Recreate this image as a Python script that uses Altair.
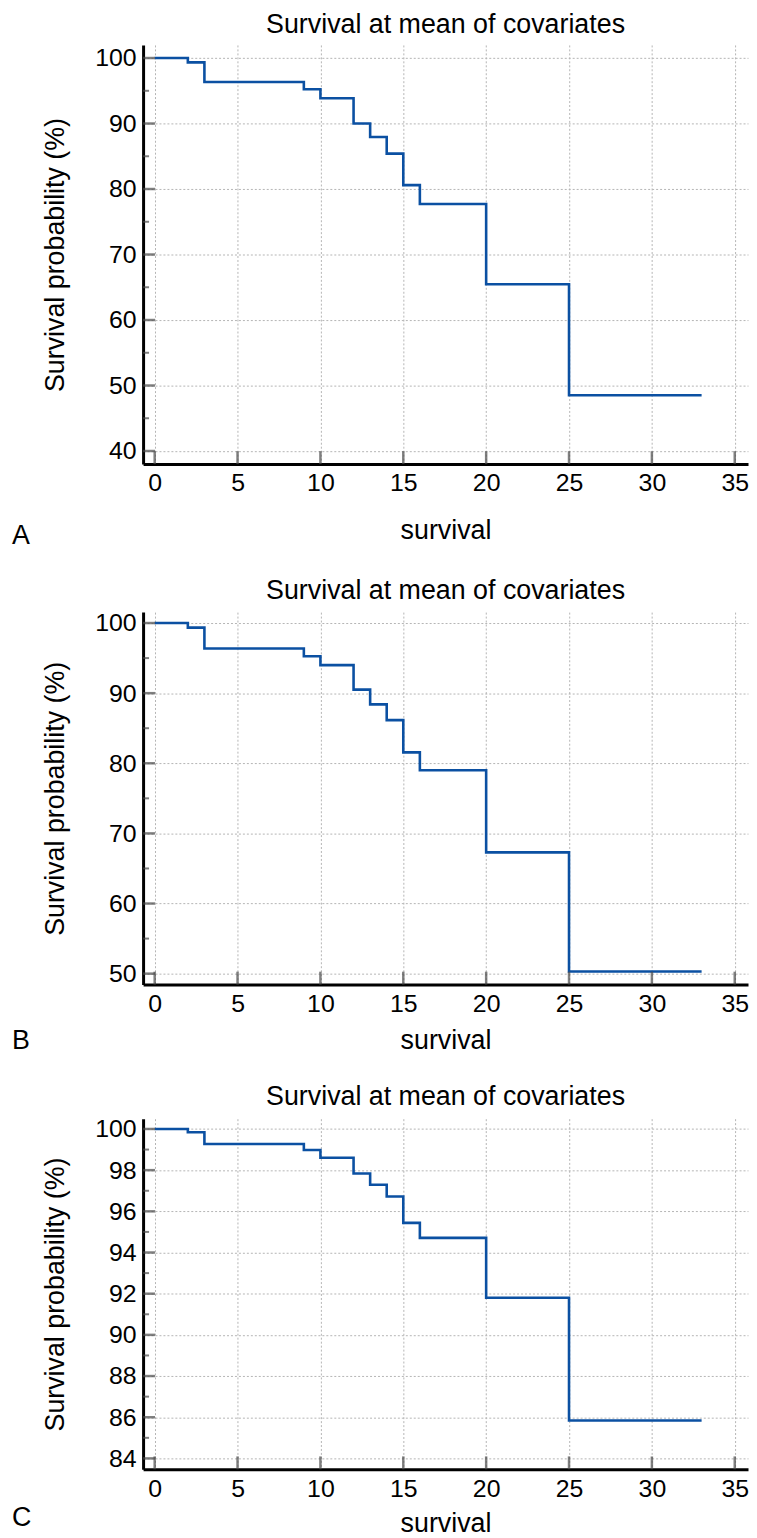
import altair as alt
import pandas as pd

# ---- data ----
TIMES = [0, 2, 3, 9, 10, 12, 13, 14, 15, 16, 20, 25, 33]
SURV_A = [100, 99.33, 96.35, 95.24, 93.87, 90.0, 87.94, 85.4, 80.6, 77.7, 65.45, 48.5, 48.5]
SURV_B = [100, 99.35, 96.37, 95.27, 94.0, 90.5, 88.4, 86.15, 81.56, 79.0, 67.3, 50.3, 50.3]
SURV_C = [100, 99.84, 99.27, 98.98, 98.6, 97.84, 97.29, 96.72, 95.44, 94.71, 91.8, 85.84, 85.84]

X_TICKS = [0, 5, 10, 15, 20, 25, 30, 35]
Y_MAJOR_A = [40, 50, 60, 70, 80, 90, 100]
Y_MINOR_A = [45, 55, 65, 75, 85, 95]
Y_MAJOR_B = [50, 60, 70, 80, 90, 100]
Y_MINOR_B = [55, 65, 75, 85, 95]
Y_MAJOR_C = [84, 86, 88, 90, 92, 94, 96, 98, 100]
Y_MINOR_C = [85, 87, 89, 91, 93, 95, 97, 99]

TITLE = "Survival at mean of covariates"
Y_TITLE = "Survival probability (%)"
X_TITLE = "survival"
LETTERS = ["A", "B", "C"]

FONT = "Liberation Sans"
LINE_COLOR = "#0b50a2"
GRID_COLOR = "#b4b4b4"
TICK_COLOR = "#4a4a4a"
W = 609
X_DOMAIN = [-0.7, 35.8]


def panel(vals, height, ydom, major, minor, letter, xpad, letter_dy):
    xs = alt.Scale(domain=X_DOMAIN, nice=False, zero=False)
    ys = alt.Scale(domain=ydom, nice=False, zero=False)
    df = pd.DataFrame({"t": TIMES, "s": vals})

    line = alt.Chart(df).mark_line(
        interpolate="step-after", color=LINE_COLOR, strokeWidth=2.6
    ).encode(
        x=alt.X("t:Q", scale=xs, axis=alt.Axis(
            values=X_TICKS, grid=True, gridDash=[2, 2], gridColor=GRID_COLOR,
            gridWidth=1, ticks=False, domainColor="black", domainWidth=3,
            labelFont=FONT, labelFontSize=25, labelColor="black", labelPadding=7,
            labelFlush=False,
            title=X_TITLE, titleFont=FONT, titleFontSize=27,
            titleFontWeight="normal", titleColor="black", titlePadding=xpad)),
        y=alt.Y("s:Q", scale=ys, axis=alt.Axis(
            values=major, grid=True, gridDash=[2, 2], gridColor=GRID_COLOR,
            gridWidth=1, ticks=False, domainColor="black", domainWidth=3,
            labelFont=FONT, labelFontSize=25, labelColor="black", labelPadding=7,
            labelFlush=False,
            title=Y_TITLE, titleFont=FONT, titleFontSize=27,
            titleFontWeight="normal", titleColor="black", titlePadding=25)),
    )

    ymaj = alt.Chart(pd.DataFrame({"v": major})).mark_tick(
        orient="horizontal", size=12, thickness=2.5, color=TICK_COLOR
    ).encode(y=alt.Y("v:Q", scale=ys, axis=None), x=alt.value(6))
    ymin = alt.Chart(pd.DataFrame({"v": minor})).mark_tick(
        orient="horizontal", size=6, thickness=2, color=TICK_COLOR
    ).encode(y=alt.Y("v:Q", scale=ys, axis=None), x=alt.value(3))
    xmaj = alt.Chart(pd.DataFrame({"v": X_TICKS})).mark_tick(
        orient="vertical", size=13, thickness=2.5, color=TICK_COLOR
    ).encode(x=alt.X("v:Q", scale=xs, axis=None), y=alt.value(height - 6.5))

    lab = alt.Chart(pd.DataFrame({"l": [letter]})).mark_text(
        align="left", baseline="alphabetic", font=FONT, fontSize=27, color="black"
    ).encode(text="l:N", x=alt.value(-132), y=alt.value(height + letter_dy))

    return alt.layer(line, ymaj, ymin, xmaj, lab).resolve_axis(
        x="independent", y="independent"
    ).properties(
        width=W, height=height,
        title=alt.TitleParams(TITLE, font=FONT, fontSize=27, fontWeight="normal",
                              color="black", anchor="middle", offset=6),
    )


pa = panel(SURV_A, 422, [38, 102], Y_MAJOR_A, Y_MINOR_A, LETTERS[0], 22, 80)
pb = panel(SURV_B, 375, [48.44, 101.56], Y_MAJOR_B, Y_MINOR_B, LETTERS[1], 11, 65)
pc = panel(SURV_C, 353, [83.47, 100.5], Y_MAJOR_C, Y_MINOR_C, LETTERS[2], 10, 57)

chart = alt.vconcat(pa, pb, pc, spacing=29).properties(
    padding={"left": 4, "top": -2, "right": 0, "bottom": 0}
).configure_view(stroke=None)

chart.save("out.html", embed_options={"renderer": "svg", "actions": False})
